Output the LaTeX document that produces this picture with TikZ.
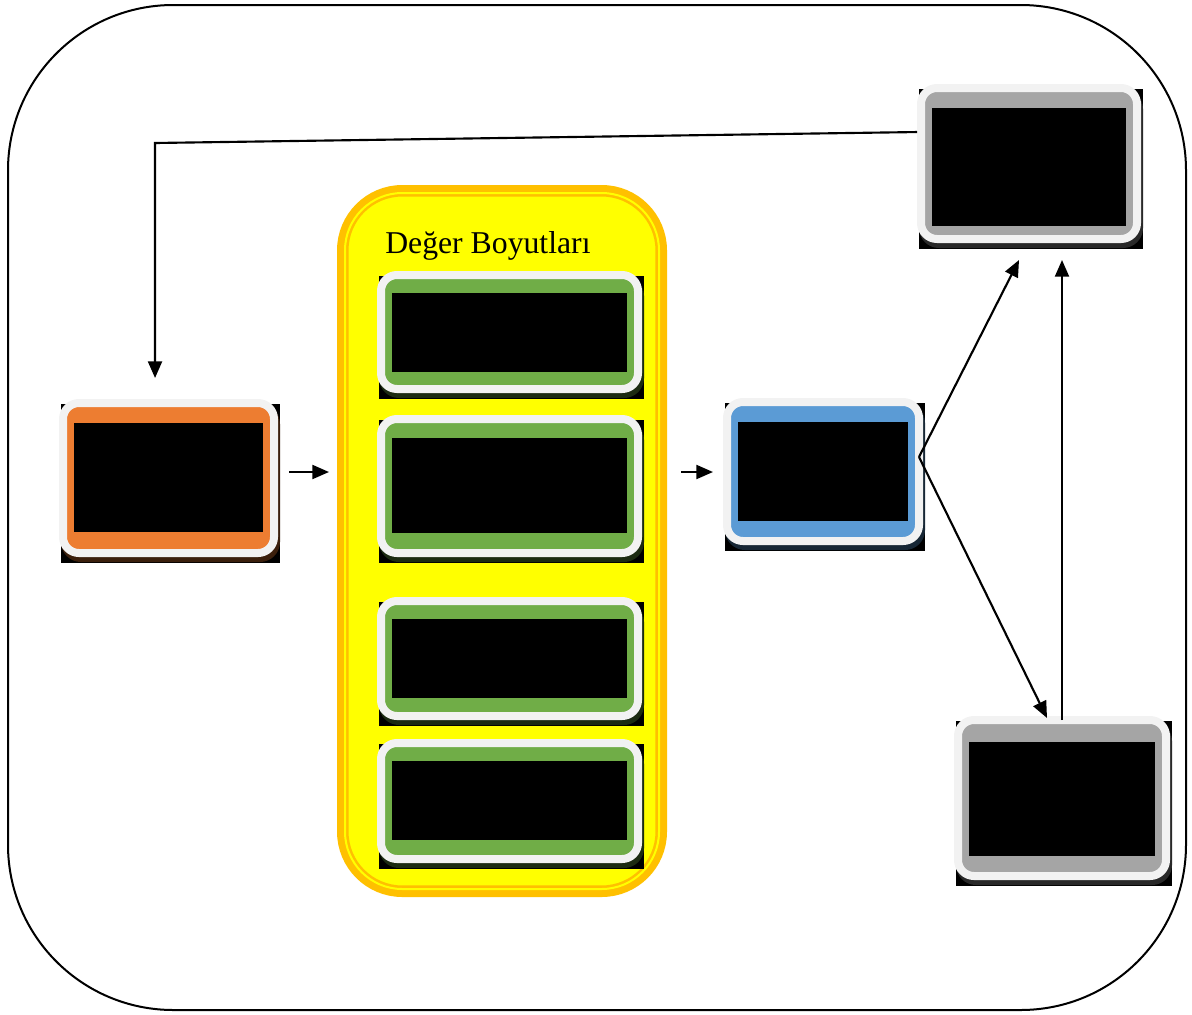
\documentclass[tikz,border=0pt]{standalone}
\usepackage{fontspec}
\setmainfont{Liberation Serif}
\usepackage{tikz}
\usetikzlibrary{arrows.meta,positioning}
\usepackage{xcolor}
\definecolor{turuncu}{HTML}{ED7D31}
\definecolor{mavi}{HTML}{5B9BD5}
\definecolor{gri}{HTML}{A5A5A5}
\definecolor{yesil}{HTML}{70AD47}
\definecolor{altin}{HTML}{FFC000}
\definecolor{sari}{HTML}{FFFF00}
\definecolor{acik}{HTML}{F2F2F2}
\tikzset{kutu/.style={rectangle,rounded corners=12pt,draw=acik,fill=#1,line width=6pt,
    inner sep=0pt,outer sep=0pt,
    preaction={draw=#1!25!black,fill=#1!25!black,line width=6pt,
      transform canvas={xshift=1.5pt,yshift=-3.75pt}}}}
\tikzset{boyutlar/.style={rectangle,rounded corners=43pt,fill=sari,draw=altin,
    double=sari,double distance=1.5pt,line width=1.9pt,inner sep=0pt,outer sep=0pt,
    preaction={draw=altin,line width=12pt}}}
\tikzset{ok/.style={-{Triangle[length=12.5pt,width=10.5pt]},line width=1.6pt}}
% name, x, y, w, h, colour, inner top, inner bottom
\newcommand{\kutuciz}[8]{%
  \fill[black] ({#2-#4/2-2},{#3-#5/2+1}) rectangle ({#2+#4/2+6},{#3+#5/2+10});
  \node (#1) [kutu=#6,minimum width=#4*0.75pt,minimum height=#5*0.75pt] at (#2,#3) {};
  \fill[black] ([xshift=8pt,yshift=-#7*0.75pt]#1.north west) rectangle ([xshift=-8pt,yshift=#8*0.75pt]#1.south east);
}

\begin{document}
\begin{tikzpicture}[x=0.75pt,y=-0.75pt]
\useasboundingbox (0,0) rectangle (1192,1014);
\draw[line width=1.5pt,rounded corners=124pt] (8,5) rectangle (1186,1010);
%
\node (deger) [boyutlar,minimum width=314*0.75pt,minimum height=696*0.75pt] at (502,541) {};
\node (baslik) [anchor=base west,inner sep=0pt,font=\fontsize{23.8}{28}\selectfont] at (385,253) {Değer Boyutları};
%
\kutuciz{giris}{168.5}{478}{211}{150}{turuncu}{20}{21}
\kutuciz{b1}{509.5}{332}{257}{114}{yesil}{18}{17}
\kutuciz{b2}{509.5}{486}{257}{134}{yesil}{19}{20}
\kutuciz{b3}{509.5}{658.5}{257}{115}{yesil}{18}{18}
\kutuciz{b4}{509.5}{801}{257}{116}{yesil}{18}{19}
\kutuciz{orta}{823}{471.5}{192}{139}{mavi}{20}{20}
\kutuciz{ust}{1029}{163.5}{216}{151}{gri}{20}{13}
\kutuciz{alt}{1062}{798}{208}{156}{gri}{22}{20}
%
\coordinate (donus) at (155,143);
\path[ok] (giris.east |- 0,472) edge[shorten <=11.25pt,shorten >=12pt] (deger.west |- 0,472);
\path[ok] (deger.east |- 0,472) edge[shorten <=16.5pt,shorten >=10.5pt] (orta.west |- 0,472);
\path[ok] (orta.east |- 0,457) edge ([xshift=-7.5pt,yshift=-15.75pt]ust.south);
\path[ok] (orta.east |- 0,457) edge ([xshift=-11.25pt,yshift=1.5pt]alt.north);
\path[ok] (alt.north) edge[shorten >=15.75pt] (ust.south -| alt.north);
\draw[ok] ([xshift=-3pt,yshift=23.6pt]ust.west) -- (donus) -- ([xshift=-10.1pt,yshift=18.75pt]giris.north);
\end{tikzpicture}
\end{document}
